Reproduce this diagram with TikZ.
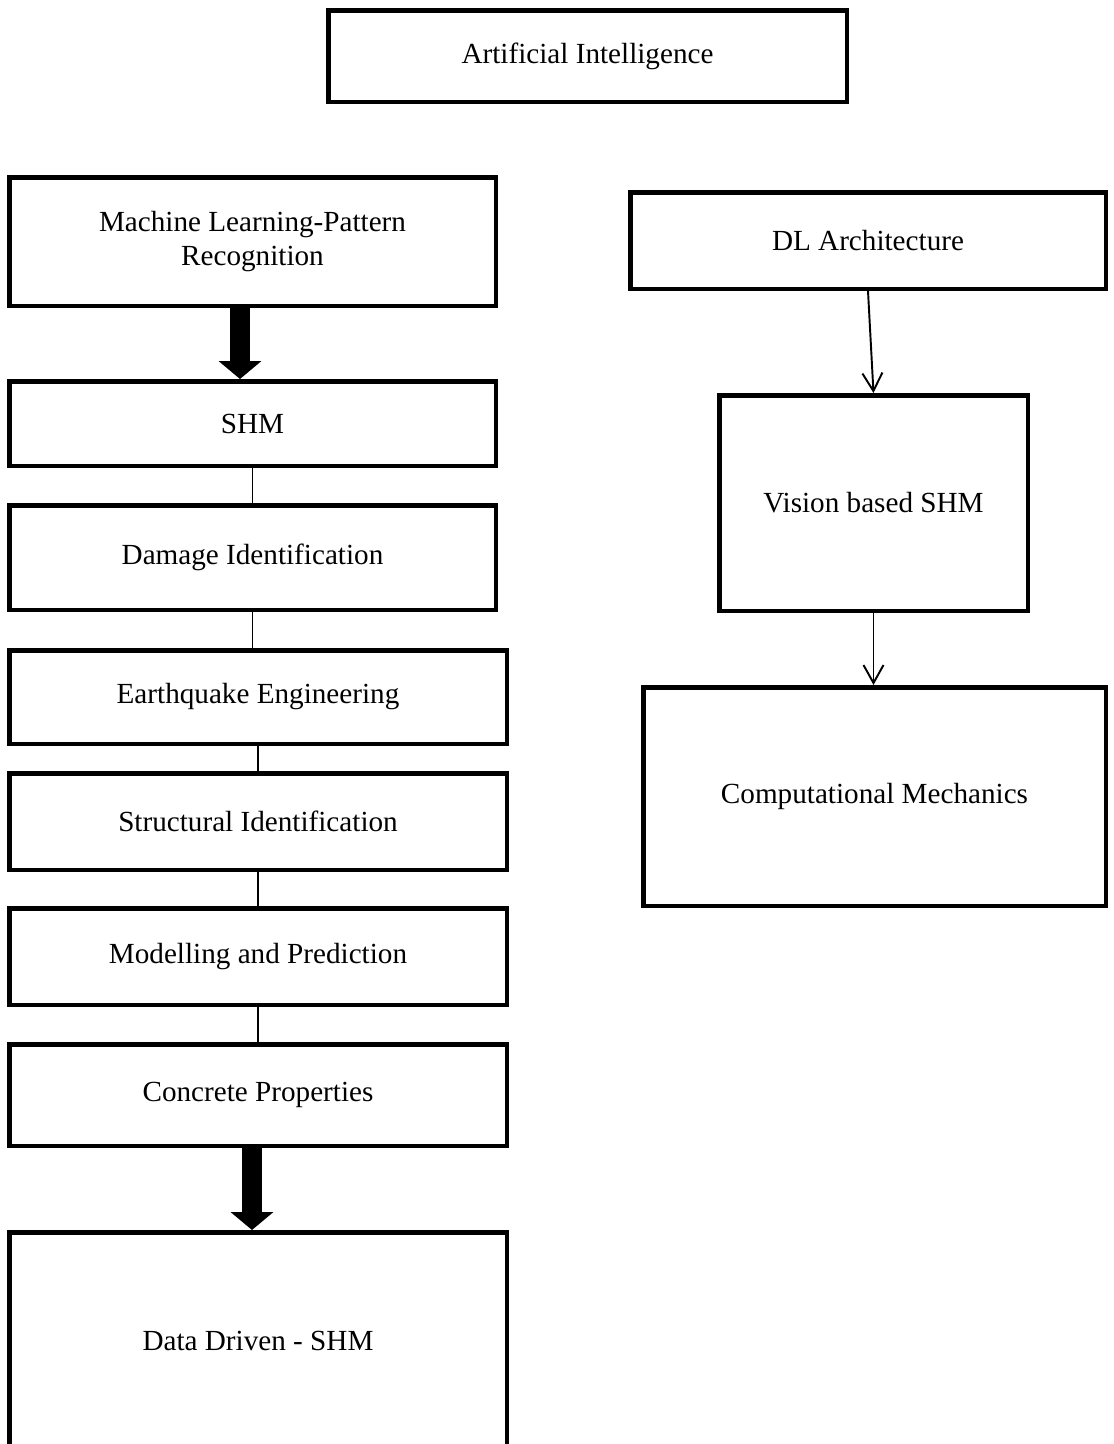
\documentclass[tikz,border=0pt]{standalone}
\usepackage{fontspec}
\setmainfont{Liberation Serif}
\usepackage{tikz}
\usetikzlibrary{positioning,arrows.meta}

\begin{document}
\begin{tikzpicture}[
    box/.style={draw, line width=0.09cm, align=center, inner sep=0pt,
                font=\fontsize{16.6}{19.3}\selectfont},
    link/.style={line width=0.75pt},
    thinarrow/.style={-{Straight Barb[length=0.36cm, width=0.4cm]}, line width=1.1pt},
    fatarrow/.style={-{Triangle[length=0 0.9, width=0 2.1]}, line width=0.4cm},
]
    \useasboundingbox (0,0) rectangle (22.28,-28.88);

    % Top
    \node[box, minimum width=10.37cm, minimum height=1.83cm] (ai) at (11.75,-1.12) {Artificial Intelligence};

    % Left column
    \node[box, minimum width=9.73cm, minimum height=2.57cm] (ml) at (5.05,-4.83) {Machine Learning-Pattern\\Recognition};
    \node[box, minimum width=9.73cm, minimum height=1.69cm, below=1.42cm of ml] (shm) {SHM};
    \node[box, minimum width=9.73cm, minimum height=2.09cm, below=0.70cm of shm] (dmg) {Damage Identification};
    \node[box, minimum width=9.95cm, minimum height=1.87cm, below=0.72cm of dmg, xshift=0.11cm] (eq) {Earthquake Engineering};
    \node[box, minimum width=9.95cm, minimum height=1.93cm, below=0.50cm of eq] (si) {Structural Identification};
    \node[box, minimum width=9.95cm, minimum height=1.93cm, below=0.68cm of si] (mp) {Modelling and Prediction};
    \node[box, minimum width=9.95cm, minimum height=2.03cm, below=0.70cm of mp] (cp) {Concrete Properties};
    \node[box, minimum width=9.95cm, minimum height=4.35cm, below=1.64cm of cp] (dd) {Data Driven - SHM};

    % Right column
    \node[box, minimum width=9.51cm, minimum height=1.93cm] (dl) at (17.36,-4.81) {DL Architecture};
    \node[box, minimum width=6.17cm, minimum height=4.31cm, below=2.04cm of dl, xshift=0.11cm] (vis) {Vision based SHM};
    \node[box, minimum width=9.25cm, minimum height=4.37cm, below=1.44cm of vis, xshift=0.02cm] (cm) {Computational Mechanics};

    % Left connectors
    \draw[fatarrow] ([xshift=-0.25cm]ml.south) -- ([xshift=-0.25cm]shm.north);
    \draw[link] (shm) -- (dmg);
    \draw[link] (dmg.south) -- (dmg.south |- eq.north);
    \draw[link] (eq) -- (si);
    \draw[link] (si) -- (mp);
    \draw[link] (mp) -- (cp);
    \draw[fatarrow] ([xshift=-0.12cm]cp.south) -- ([xshift=-0.12cm]dd.north);

    % Right connectors
    \draw[thinarrow] (dl.south) -- (vis.north);
    \draw[thinarrow] (vis.south) -- (vis.south |- cm.north);
\end{tikzpicture}
\end{document}
